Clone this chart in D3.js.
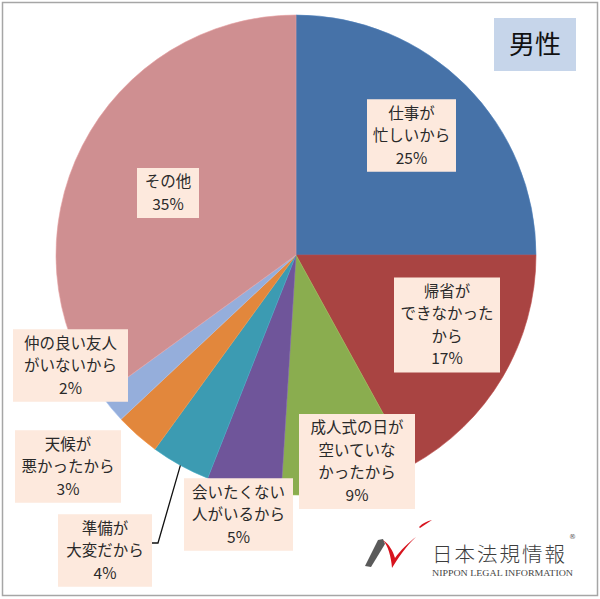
<!DOCTYPE html>
<html><head><meta charset="utf-8">
<script src="https://cdn.jsdelivr.net/npm/d3@7"></script>
<style>
html,body{margin:0;padding:0;background:#fff;}
svg{display:block;}
</style>
</head><body>
<svg id="chart" width="600" height="599"></svg>
<script>
// ---- data ----
const categories = [
  ["仕事が","忙しいから"],
  ["帰省が","できなかった","から"],
  ["成人式の日が","空いていな","かったから"],
  ["会いたくない","人がいるから"],
  ["準備が","大変だから"],
  ["天候が","悪かったから"],
  ["仲の良い友人","がいないから"],
  ["その他"]
];
const values = [25, 17, 9, 5, 4, 3, 2, 35];
const valueLabels = ["25%","17%","9%","5%","4%","3%","2%","35%"];
const colors = ["#4672a8","#a94442","#8aad4f","#6f559a","#3c9bb2","#e2873c","#95aedb","#cf8f91"];
const title = "男性";

// ---- layout (label box centers and widths) ----
const labelBoxes = [
  {cx:411.5, cy:135.5, w:89},
  {cx:447,   cy:325,   w:106},
  {cx:357,   cy:461.5, w:116},
  {cx:238.5, cy:514.5, w:109},
  {cx:105,   cy:550.5, w:94},
  {cx:68,    cy:466.5, w:106},
  {cx:70.5,  cy:365.5, w:115},
  {cx:168,   cy:193,   w:62}
];

const svg = d3.select("#chart");
const cx = 296, cy = 255, R = 240;

// frame
svg.append("rect").attr("x",2.5).attr("y",2.5).attr("width",595).attr("height",593)
  .attr("fill","#fff").attr("stroke","#a6a6a6").attr("stroke-width",1.5);

const pie = d3.pie().sort(null).value(d=>d);
const arcs = pie(values);
const arc = d3.arc().innerRadius(0).outerRadius(R);

const g = svg.append("g").attr("transform",`translate(${cx},${cy})`);
g.selectAll("path.slice").data(arcs).enter().append("path")
  .attr("class","slice")
  .attr("d",arc)
  .attr("fill",(d,i)=>colors[i])
  .attr("stroke",(d,i)=>d3.color(colors[i]).brighter(0.3))
  .attr("stroke-width",0.6);

// leader line for small slice (準備が)
{
  const i = 4;
  const a = (arcs[i].startAngle + arcs[i].endAngle)/2;
  const ex = cx + R*Math.sin(a), ey = cy - R*Math.cos(a);
  const b = labelBoxes[i];
  const lx = b.cx + b.w/2;
  svg.append("polyline")
    .attr("points",`${lx},543 ${lx+6},543 ${ex},${ey}`)
    .attr("fill","none").attr("stroke","#111").attr("stroke-width",1.3);
}

// labels
const lineH = 22.5;
const fontFam = "'Noto Sans CJK JP','Noto Sans',sans-serif";
categories.forEach((lines,i)=>{
  const b = labelBoxes[i];
  const all = lines.concat([valueLabels[i]]);
  const h = all.length*lineH + 5;
  const lg = svg.append("g");
  lg.append("rect").attr("x",b.cx-b.w/2).attr("y",b.cy-h/2).attr("width",b.w).attr("height",h)
    .attr("fill","#fde9dd");
  all.forEach((t,k)=>{
    lg.append("text")
      .attr("x",b.cx)
      .attr("y",b.cy - h/2 + 2.5 + lineH*(k+0.5))
      .attr("dy","0.36em")
      .attr("text-anchor","middle")
      .attr("font-family",fontFam)
      .attr("font-size",15.5)
      .attr("fill","#2a2a2a")
      .text(t);
  });
});

// title box
svg.append("rect").attr("x",494).attr("y",18).attr("width",82).attr("height",53).attr("fill","#c6d5ea");
svg.append("text").attr("x",535).attr("y",45).attr("dy","0.36em").attr("text-anchor","middle")
  .attr("font-family",fontFam).attr("font-size",26).attr("fill","#111").text(title);

// logo
const logo = svg.append("g");
logo.append("path")
  .attr("d","M365,566 L371,567 L385,544 L383,539 L378,540 Z")
  .attr("fill","#5a5a5a");
logo.append("path")
  .attr("d","M383,540 C388,546 391,556 392,568 C398,558 406,546 416,537 C409,542 400,551 395,558 C393,551 389,544 383,540 Z")
  .attr("fill","#d7141e");
logo.append("path")
  .attr("d","M419,527 C423,523 427,521 432,520 C428,523 424,525 420,528 Z")
  .attr("fill","#d7141e");
logo.append("text").attr("x",432).attr("y",562)
  .attr("font-family","'Noto Sans CJK JP',sans-serif").attr("font-weight",300)
  .attr("font-size",20.5).attr("textLength",133).attr("lengthAdjust","spacing")
  .attr("fill","#3d3d3d").text("日本法規情報");
logo.append("text").attr("x",569).attr("y",539)
  .attr("font-family","'DejaVu Sans',sans-serif").attr("font-size",7).attr("fill","#555").text("®");
logo.append("text").attr("x",432).attr("y",576)
  .attr("font-family","'Liberation Serif',serif").attr("font-size",8.5)
  .attr("textLength",141).attr("lengthAdjust","spacingAndGlyphs")
  .attr("fill","#444").text("NIPPON LEGAL INFORMATION");
</script>
</body></html>
